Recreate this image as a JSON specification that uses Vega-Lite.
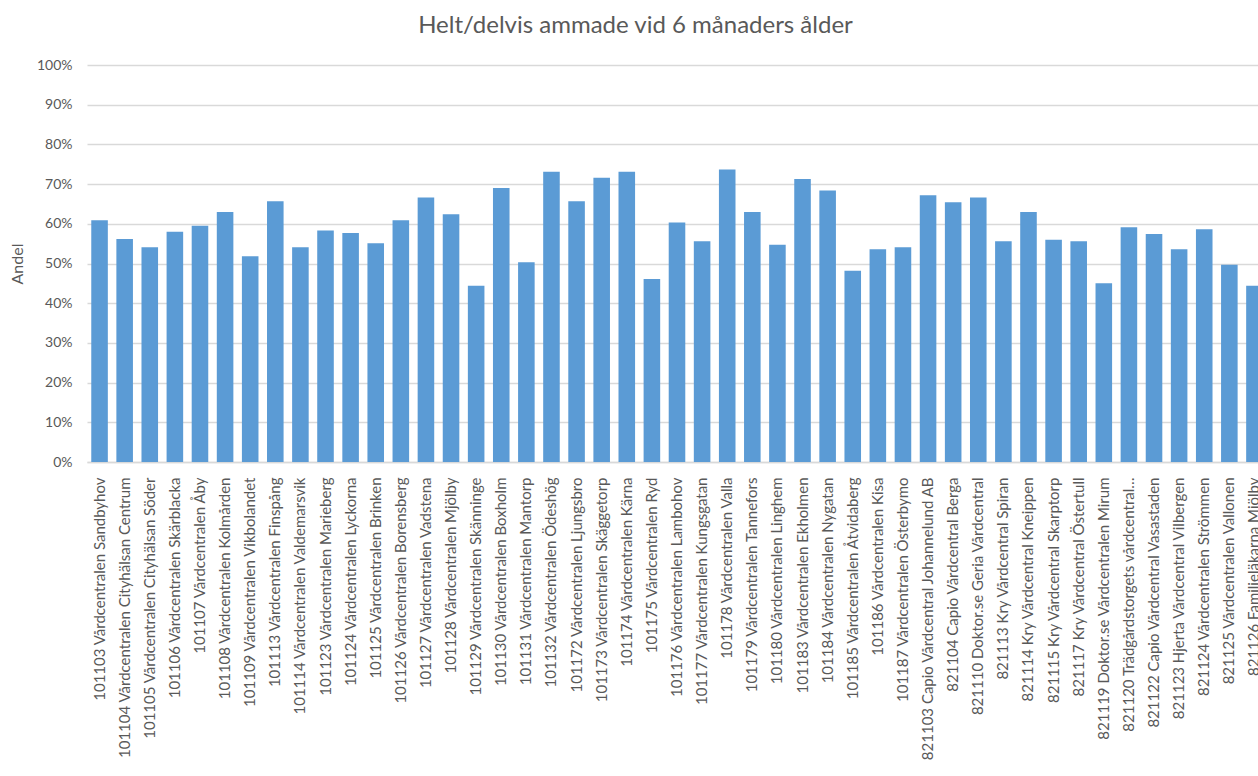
{
  "$schema": "https://vega.github.io/schema/vega-lite/v6.json",
  "autosize": {"type": "none"},
  "width": 1171,
  "height": 397,
  "padding": {"left": 87, "top": 65, "right": 0, "bottom": 314},
  "background": "#ffffff",
  "title": {
    "text": "Helt/delvis ammade vid 6 månaders ålder",
    "font": "Lato",
    "fontSize": 24,
    "fontWeight": "normal",
    "color": "#595959",
    "anchor": "middle",
    "frame": "group",
    "dx": -37,
    "offset": 20
  },
  "data": {
    "values": [
      {"enhet": "101103 Vårdcentralen Sandbyhov", "andel": 0.609},
      {"enhet": "101104 Vårdcentralen Cityhälsan Centrum", "andel": 0.562},
      {"enhet": "101105 Vårdcentralen Cityhälsan Söder", "andel": 0.541},
      {"enhet": "101106 Vårdcentralen Skärblacka", "andel": 0.580},
      {"enhet": "101107 Vårdcentralen Åby", "andel": 0.595},
      {"enhet": "101108 Vårdcentralen Kolmården", "andel": 0.630},
      {"enhet": "101109 Vårdcentralen Vikbolandet", "andel": 0.518},
      {"enhet": "101113 Vårdcentralen Finspång", "andel": 0.657},
      {"enhet": "101114 Vårdcentralen Valdemarsvik", "andel": 0.541},
      {"enhet": "101123 Vårdcentralen Marieberg", "andel": 0.583},
      {"enhet": "101124 Vårdcentralen Lyckorna", "andel": 0.577},
      {"enhet": "101125 Vårdcentralen Brinken", "andel": 0.551},
      {"enhet": "101126 Vårdcentralen Borensberg", "andel": 0.609},
      {"enhet": "101127 Vårdcentralen Vadstena", "andel": 0.666},
      {"enhet": "101128 Vårdcentralen Mjölby", "andel": 0.624},
      {"enhet": "101129 Vårdcentralen Skänninge", "andel": 0.444},
      {"enhet": "101130 Vårdcentralen Boxholm", "andel": 0.690},
      {"enhet": "101131 Vårdcentralen Mantorp", "andel": 0.503},
      {"enhet": "101132 Vårdcentralen Ödeshög", "andel": 0.731},
      {"enhet": "101172 Vårdcentralen Ljungsbro", "andel": 0.657},
      {"enhet": "101173 Vårdcentralen Skäggetorp", "andel": 0.716},
      {"enhet": "101174 Vårdcentralen Kärna", "andel": 0.731},
      {"enhet": "101175 Vårdcentralen Ryd", "andel": 0.461},
      {"enhet": "101176 Vårdcentralen Lambohov", "andel": 0.603},
      {"enhet": "101177 Vårdcentralen Kungsgatan", "andel": 0.556},
      {"enhet": "101178 Vårdcentralen Valla", "andel": 0.737},
      {"enhet": "101179 Vårdcentralen Tannefors", "andel": 0.630},
      {"enhet": "101180 Vårdcentralen Linghem", "andel": 0.547},
      {"enhet": "101183 Vårdcentralen Ekholmen", "andel": 0.713},
      {"enhet": "101184 Vårdcentralen Nygatan", "andel": 0.684},
      {"enhet": "101185 Vårdcentralen Åtvidaberg", "andel": 0.482},
      {"enhet": "101186 Vårdcentralen Kisa", "andel": 0.536},
      {"enhet": "101187 Vårdcentralen Österbymo", "andel": 0.541},
      {"enhet": "821103 Capio Vårdcentral Johannelund AB", "andel": 0.672},
      {"enhet": "821104 Capio Vårdcentral Berga", "andel": 0.654},
      {"enhet": "821110 Doktor.se Geria Vårdcentral", "andel": 0.666},
      {"enhet": "821113 Kry Vårdcentral Spiran", "andel": 0.556},
      {"enhet": "821114 Kry Vårdcentral Kneippen", "andel": 0.630},
      {"enhet": "821115 Kry Vårdcentral Skarptorp", "andel": 0.560},
      {"enhet": "821117 Kry Vårdcentral Östertull", "andel": 0.556},
      {"enhet": "821119 Doktor.se Vårdcentralen Mirum", "andel": 0.450},
      {"enhet": "821120 Trädgårdstorgets vårdcentral…", "andel": 0.591},
      {"enhet": "821122 Capio Vårdcentral Vasastaden", "andel": 0.574},
      {"enhet": "821123 Hjerta Vårdcentral Vilbergen", "andel": 0.536},
      {"enhet": "821124 Vårdcentralen Strömmen", "andel": 0.586},
      {"enhet": "821125 Vårdcentralen Vallonen", "andel": 0.497},
      {"enhet": "821126 Familjeläkarna Mjölby", "andel": 0.444}
    ]
  },
  "mark": {"type": "bar", "color": "#5B9BD5"},
  "encoding": {
    "x": {
      "field": "enhet",
      "type": "nominal",
      "sort": null,
      "scale": {"range": [0, 1180], "paddingInner": 0.34, "paddingOuter": 0.17},
      "axis": {
        "title": null,
        "labelAngle": -90,
        "labelAlign": "right",
        "labelBaseline": "middle",
        "labelFont": "Lato",
        "labelFontSize": 15,
        "labelColor": "#595959",
        "labelPadding": 15,
        "labelLimit": 400,
        "labelOverlap": false,
        "ticks": false,
        "domain": true,
        "domainColor": "#D9D9D9",
        "domainWidth": 1.3,
        "grid": false
      }
    },
    "y": {
      "field": "andel",
      "type": "quantitative",
      "scale": {"domain": [0, 1], "nice": false},
      "axis": {
        "title": "Andel",
        "titleFont": "Lato",
        "titleFontSize": 16,
        "titleFontWeight": "normal",
        "titleColor": "#595959",
        "titlePadding": 11,
        "format": ".0%",
        "values": [0, 0.1, 0.2, 0.3, 0.4, 0.5, 0.6, 0.7, 0.8, 0.9, 1],
        "labelFont": "Lato",
        "labelFontSize": 14,
        "labelColor": "#595959",
        "labelPadding": 15,
        "ticks": false,
        "domain": false,
        "grid": true,
        "gridColor": "#D9D9D9",
        "gridWidth": 1.3
      }
    }
  },
  "config": {"view": {"stroke": null}}
}
